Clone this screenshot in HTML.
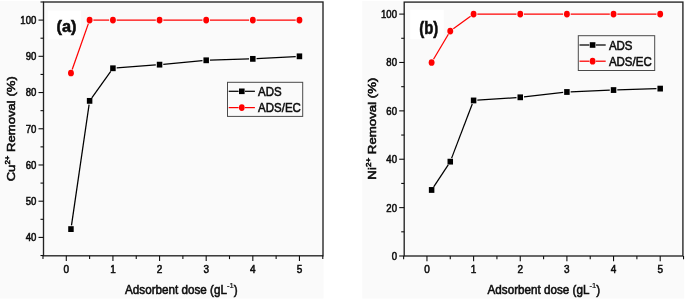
<!DOCTYPE html>
<html lang="en"><head><meta charset="utf-8"><title>Removal vs adsorbent dose</title>
<style>html,body{margin:0;padding:0;background:#fff;}svg{display:block;}</style></head>
<body>
<svg width="685" height="300" viewBox="0 0 685 300" font-family="'Liberation Sans', Arial, sans-serif" fill="#111">
<style>text{stroke:#0c0c0c;stroke-width:0.55px;fill:#0c0c0c;}</style>
<defs><filter id="soft" x="0" y="0" width="100%" height="100%" filterUnits="objectBoundingBox"><feGaussianBlur stdDeviation="0.38"/></filter></defs>
<rect width="685" height="300" fill="#fff"/>
<g filter="url(#soft)">
<rect width="685" height="300" fill="#fff"/>
<rect x="0" y="1" width="323.5" height="297.5" fill="#fafafa"/>
<rect x="47.7" y="10.6" width="33.3" height="28.799999999999997" fill="#fff"/>
<rect x="43.5" y="2.0" width="279.5" height="253.8" fill="none" stroke="#222" stroke-width="1.35"/>
<line x1="66.30" y1="255.8" x2="66.30" y2="261.0" stroke="#111" stroke-width="1.1"/>
<text transform="translate(66.30,273.10) scale(0.9,1)" font-size="11.1" text-anchor="middle" font-weight="normal" >0</text>
<line x1="112.93" y1="255.8" x2="112.93" y2="261.0" stroke="#111" stroke-width="1.1"/>
<text transform="translate(112.93,273.10) scale(0.9,1)" font-size="11.1" text-anchor="middle" font-weight="normal" >1</text>
<line x1="159.56" y1="255.8" x2="159.56" y2="261.0" stroke="#111" stroke-width="1.1"/>
<text transform="translate(159.56,273.10) scale(0.9,1)" font-size="11.1" text-anchor="middle" font-weight="normal" >2</text>
<line x1="206.19" y1="255.8" x2="206.19" y2="261.0" stroke="#111" stroke-width="1.1"/>
<text transform="translate(206.19,273.10) scale(0.9,1)" font-size="11.1" text-anchor="middle" font-weight="normal" >3</text>
<line x1="252.82" y1="255.8" x2="252.82" y2="261.0" stroke="#111" stroke-width="1.1"/>
<text transform="translate(252.82,273.10) scale(0.9,1)" font-size="11.1" text-anchor="middle" font-weight="normal" >4</text>
<line x1="299.45" y1="255.8" x2="299.45" y2="261.0" stroke="#111" stroke-width="1.1"/>
<text transform="translate(299.45,273.10) scale(0.9,1)" font-size="11.1" text-anchor="middle" font-weight="normal" >5</text>
<line x1="42.98" y1="255.8" x2="42.98" y2="259.1" stroke="#111" stroke-width="1.1"/>
<line x1="89.61" y1="255.8" x2="89.61" y2="259.1" stroke="#111" stroke-width="1.1"/>
<line x1="136.25" y1="255.8" x2="136.25" y2="259.1" stroke="#111" stroke-width="1.1"/>
<line x1="182.88" y1="255.8" x2="182.88" y2="259.1" stroke="#111" stroke-width="1.1"/>
<line x1="229.50" y1="255.8" x2="229.50" y2="259.1" stroke="#111" stroke-width="1.1"/>
<line x1="276.13" y1="255.8" x2="276.13" y2="259.1" stroke="#111" stroke-width="1.1"/>
<line x1="322.77" y1="255.8" x2="322.77" y2="259.1" stroke="#111" stroke-width="1.1"/>
<line x1="38.5" y1="237.42" x2="43.5" y2="237.42" stroke="#111" stroke-width="1.1"/>
<text transform="translate(36.30,241.37) scale(0.87,1)" font-size="11.0" text-anchor="end" font-weight="normal" >40</text>
<line x1="38.5" y1="201.20" x2="43.5" y2="201.20" stroke="#111" stroke-width="1.1"/>
<text transform="translate(36.30,205.15) scale(0.87,1)" font-size="11.0" text-anchor="end" font-weight="normal" >50</text>
<line x1="38.5" y1="164.98" x2="43.5" y2="164.98" stroke="#111" stroke-width="1.1"/>
<text transform="translate(36.30,168.93) scale(0.87,1)" font-size="11.0" text-anchor="end" font-weight="normal" >60</text>
<line x1="38.5" y1="128.76" x2="43.5" y2="128.76" stroke="#111" stroke-width="1.1"/>
<text transform="translate(36.30,132.71) scale(0.87,1)" font-size="11.0" text-anchor="end" font-weight="normal" >70</text>
<line x1="38.5" y1="92.54" x2="43.5" y2="92.54" stroke="#111" stroke-width="1.1"/>
<text transform="translate(36.30,96.49) scale(0.87,1)" font-size="11.0" text-anchor="end" font-weight="normal" >80</text>
<line x1="38.5" y1="56.32" x2="43.5" y2="56.32" stroke="#111" stroke-width="1.1"/>
<text transform="translate(36.30,60.27) scale(0.87,1)" font-size="11.0" text-anchor="end" font-weight="normal" >90</text>
<line x1="38.5" y1="20.10" x2="43.5" y2="20.10" stroke="#111" stroke-width="1.1"/>
<text transform="translate(36.30,24.05) scale(0.87,1)" font-size="11.0" text-anchor="end" font-weight="normal" >100</text>
<line x1="40.5" y1="255.53" x2="43.5" y2="255.53" stroke="#111" stroke-width="1.1"/>
<line x1="40.5" y1="219.31" x2="43.5" y2="219.31" stroke="#111" stroke-width="1.1"/>
<line x1="40.5" y1="183.09" x2="43.5" y2="183.09" stroke="#111" stroke-width="1.1"/>
<line x1="40.5" y1="146.87" x2="43.5" y2="146.87" stroke="#111" stroke-width="1.1"/>
<line x1="40.5" y1="110.65" x2="43.5" y2="110.65" stroke="#111" stroke-width="1.1"/>
<line x1="40.5" y1="74.43" x2="43.5" y2="74.43" stroke="#111" stroke-width="1.1"/>
<line x1="40.5" y1="38.21" x2="43.5" y2="38.21" stroke="#111" stroke-width="1.1"/>
<line x1="40.5" y1="1.99" x2="43.5" y2="1.99" stroke="#111" stroke-width="1.1"/>
<line x1="72.21" y1="69.44" x2="88.37" y2="23.64" stroke="#ff0000" stroke-width="1.25"/>
<line x1="93.36" y1="20.10" x2="109.18" y2="20.10" stroke="#ff0000" stroke-width="1.25"/>
<line x1="116.68" y1="20.10" x2="155.81" y2="20.10" stroke="#ff0000" stroke-width="1.25"/>
<line x1="163.31" y1="20.10" x2="202.44" y2="20.10" stroke="#ff0000" stroke-width="1.25"/>
<line x1="209.94" y1="20.10" x2="249.07" y2="20.10" stroke="#ff0000" stroke-width="1.25"/>
<line x1="256.57" y1="20.10" x2="295.70" y2="20.10" stroke="#ff0000" stroke-width="1.25"/>
<ellipse cx="70.96" cy="72.98" rx="2.9499999999999997" ry="3.35" fill="#ff0000"/>
<ellipse cx="89.61" cy="20.10" rx="2.9499999999999997" ry="3.35" fill="#ff0000"/>
<ellipse cx="112.93" cy="20.10" rx="2.9499999999999997" ry="3.35" fill="#ff0000"/>
<ellipse cx="159.56" cy="20.10" rx="2.9499999999999997" ry="3.35" fill="#ff0000"/>
<ellipse cx="206.19" cy="20.10" rx="2.9499999999999997" ry="3.35" fill="#ff0000"/>
<ellipse cx="252.82" cy="20.10" rx="2.9499999999999997" ry="3.35" fill="#ff0000"/>
<ellipse cx="299.45" cy="20.10" rx="2.9499999999999997" ry="3.35" fill="#ff0000"/>
<line x1="71.50" y1="225.38" x2="89.08" y2="104.58" stroke="#000" stroke-width="1.25"/>
<line x1="91.80" y1="97.82" x2="110.75" y2="71.32" stroke="#000" stroke-width="1.25"/>
<line x1="116.67" y1="67.98" x2="155.82" y2="64.94" stroke="#000" stroke-width="1.25"/>
<line x1="163.29" y1="64.30" x2="202.46" y2="60.65" stroke="#000" stroke-width="1.25"/>
<line x1="209.94" y1="60.19" x2="249.07" y2="58.97" stroke="#000" stroke-width="1.25"/>
<line x1="256.56" y1="58.65" x2="295.71" y2="56.52" stroke="#000" stroke-width="1.25"/>
<rect x="68.21" y="226.19" width="5.5" height="5.8" fill="#000"/>
<rect x="86.86" y="97.97" width="5.5" height="5.8" fill="#000"/>
<rect x="110.18" y="65.37" width="5.5" height="5.8" fill="#000"/>
<rect x="156.81" y="61.75" width="5.5" height="5.8" fill="#000"/>
<rect x="203.44" y="57.40" width="5.5" height="5.8" fill="#000"/>
<rect x="250.07" y="55.96" width="5.5" height="5.8" fill="#000"/>
<rect x="296.70" y="53.42" width="5.5" height="5.8" fill="#000"/>
<text transform="translate(66.50,31.60) scale(1.0,1)" font-size="16.3" text-anchor="middle" font-weight="bold" >(a)</text>
<rect x="227.5" y="82.3" width="75.19999999999999" height="34.10000000000001" fill="#fafafa" stroke="#4a4a4a" stroke-width="1"/>
<line x1="228.7" y1="91.3" x2="238.60000000000002" y2="91.3" stroke="#000" stroke-width="1.25"/>
<line x1="245.0" y1="91.3" x2="254.9" y2="91.3" stroke="#000" stroke-width="1.25"/>
<rect x="239.0" y="88.5" width="5.6" height="5.6" fill="#000"/>
<line x1="228.7" y1="107.6" x2="238.60000000000002" y2="107.6" stroke="#ff0000" stroke-width="1.25"/>
<line x1="245.0" y1="107.6" x2="254.9" y2="107.6" stroke="#ff0000" stroke-width="1.25"/>
<ellipse cx="241.8" cy="107.6" rx="2.9" ry="3.35" fill="#ff0000"/>
<text transform="translate(258.10,96.00) scale(0.885,1)" font-size="13" text-anchor="start" font-weight="normal" >ADS</text>
<text transform="translate(258.10,112.30) scale(0.885,1)" font-size="13" text-anchor="start" font-weight="normal" >ADS/EC</text>
<text transform="translate(181.35,294.20) scale(0.95,1)" font-size="12.3" text-anchor="middle" font-weight="normal" >Adsorbent dose (gL<tspan font-size="8" dy="-6.4" stroke-width="0.2">-1</tspan><tspan dy="6.4">)</tspan></text>
<text transform="translate(14.6,128.8) rotate(-90) scale(1.11,1)" font-size="11.8" text-anchor="middle">Cu<tspan font-size="7.2" dy="-5">2+</tspan><tspan dy="5"> Removal (%)</tspan></text>
<rect x="362.3" y="1" width="321.90000000000003" height="297.5" fill="#fafafa"/>
<rect x="410.2" y="9.7" width="33.5" height="29.500000000000004" fill="#fff"/>
<rect x="404.2" y="2.1" width="278.7" height="253.9" fill="none" stroke="#222" stroke-width="1.35"/>
<line x1="426.95" y1="256.0" x2="426.95" y2="261.2" stroke="#111" stroke-width="1.1"/>
<text transform="translate(426.95,273.30) scale(0.9,1)" font-size="11.1" text-anchor="middle" font-weight="normal" >0</text>
<line x1="473.60" y1="256.0" x2="473.60" y2="261.2" stroke="#111" stroke-width="1.1"/>
<text transform="translate(473.60,273.30) scale(0.9,1)" font-size="11.1" text-anchor="middle" font-weight="normal" >1</text>
<line x1="520.25" y1="256.0" x2="520.25" y2="261.2" stroke="#111" stroke-width="1.1"/>
<text transform="translate(520.25,273.30) scale(0.9,1)" font-size="11.1" text-anchor="middle" font-weight="normal" >2</text>
<line x1="566.90" y1="256.0" x2="566.90" y2="261.2" stroke="#111" stroke-width="1.1"/>
<text transform="translate(566.90,273.30) scale(0.9,1)" font-size="11.1" text-anchor="middle" font-weight="normal" >3</text>
<line x1="613.55" y1="256.0" x2="613.55" y2="261.2" stroke="#111" stroke-width="1.1"/>
<text transform="translate(613.55,273.30) scale(0.9,1)" font-size="11.1" text-anchor="middle" font-weight="normal" >4</text>
<line x1="660.20" y1="256.0" x2="660.20" y2="261.2" stroke="#111" stroke-width="1.1"/>
<text transform="translate(660.20,273.30) scale(0.9,1)" font-size="11.1" text-anchor="middle" font-weight="normal" >5</text>
<line x1="403.62" y1="256.0" x2="403.62" y2="259.3" stroke="#111" stroke-width="1.1"/>
<line x1="450.27" y1="256.0" x2="450.27" y2="259.3" stroke="#111" stroke-width="1.1"/>
<line x1="496.92" y1="256.0" x2="496.92" y2="259.3" stroke="#111" stroke-width="1.1"/>
<line x1="543.58" y1="256.0" x2="543.58" y2="259.3" stroke="#111" stroke-width="1.1"/>
<line x1="590.23" y1="256.0" x2="590.23" y2="259.3" stroke="#111" stroke-width="1.1"/>
<line x1="636.88" y1="256.0" x2="636.88" y2="259.3" stroke="#111" stroke-width="1.1"/>
<line x1="683.52" y1="256.0" x2="683.52" y2="259.3" stroke="#111" stroke-width="1.1"/>
<line x1="399.2" y1="256.00" x2="404.2" y2="256.00" stroke="#111" stroke-width="1.1"/>
<text transform="translate(397.00,259.95) scale(0.87,1)" font-size="11.0" text-anchor="end" font-weight="normal" >0</text>
<line x1="399.2" y1="207.62" x2="404.2" y2="207.62" stroke="#111" stroke-width="1.1"/>
<text transform="translate(397.00,211.57) scale(0.87,1)" font-size="11.0" text-anchor="end" font-weight="normal" >20</text>
<line x1="399.2" y1="159.24" x2="404.2" y2="159.24" stroke="#111" stroke-width="1.1"/>
<text transform="translate(397.00,163.19) scale(0.87,1)" font-size="11.0" text-anchor="end" font-weight="normal" >40</text>
<line x1="399.2" y1="110.86" x2="404.2" y2="110.86" stroke="#111" stroke-width="1.1"/>
<text transform="translate(397.00,114.81) scale(0.87,1)" font-size="11.0" text-anchor="end" font-weight="normal" >60</text>
<line x1="399.2" y1="62.48" x2="404.2" y2="62.48" stroke="#111" stroke-width="1.1"/>
<text transform="translate(397.00,66.43) scale(0.87,1)" font-size="11.0" text-anchor="end" font-weight="normal" >80</text>
<line x1="399.2" y1="14.10" x2="404.2" y2="14.10" stroke="#111" stroke-width="1.1"/>
<text transform="translate(397.00,18.05) scale(0.87,1)" font-size="11.0" text-anchor="end" font-weight="normal" >100</text>
<line x1="401.2" y1="231.81" x2="404.2" y2="231.81" stroke="#111" stroke-width="1.1"/>
<line x1="401.2" y1="183.43" x2="404.2" y2="183.43" stroke="#111" stroke-width="1.1"/>
<line x1="401.2" y1="135.05" x2="404.2" y2="135.05" stroke="#111" stroke-width="1.1"/>
<line x1="401.2" y1="86.67" x2="404.2" y2="86.67" stroke="#111" stroke-width="1.1"/>
<line x1="401.2" y1="38.29" x2="404.2" y2="38.29" stroke="#111" stroke-width="1.1"/>
<line x1="433.53" y1="59.26" x2="448.36" y2="34.26" stroke="#ff0000" stroke-width="1.25"/>
<line x1="453.31" y1="28.83" x2="470.57" y2="16.30" stroke="#ff0000" stroke-width="1.25"/>
<line x1="477.35" y1="14.10" x2="516.50" y2="14.10" stroke="#ff0000" stroke-width="1.25"/>
<line x1="524.00" y1="14.10" x2="563.15" y2="14.10" stroke="#ff0000" stroke-width="1.25"/>
<line x1="570.65" y1="14.10" x2="609.80" y2="14.10" stroke="#ff0000" stroke-width="1.25"/>
<line x1="617.30" y1="14.10" x2="656.45" y2="14.10" stroke="#ff0000" stroke-width="1.25"/>
<ellipse cx="431.62" cy="62.48" rx="2.9499999999999997" ry="3.35" fill="#ff0000"/>
<ellipse cx="450.27" cy="31.03" rx="2.9499999999999997" ry="3.35" fill="#ff0000"/>
<ellipse cx="473.60" cy="14.10" rx="2.9499999999999997" ry="3.35" fill="#ff0000"/>
<ellipse cx="520.25" cy="14.10" rx="2.9499999999999997" ry="3.35" fill="#ff0000"/>
<ellipse cx="566.90" cy="14.10" rx="2.9499999999999997" ry="3.35" fill="#ff0000"/>
<ellipse cx="613.55" cy="14.10" rx="2.9499999999999997" ry="3.35" fill="#ff0000"/>
<ellipse cx="660.20" cy="14.10" rx="2.9499999999999997" ry="3.35" fill="#ff0000"/>
<line x1="433.68" y1="186.83" x2="448.21" y2="164.79" stroke="#000" stroke-width="1.25"/>
<line x1="451.61" y1="158.15" x2="472.26" y2="103.96" stroke="#000" stroke-width="1.25"/>
<line x1="477.34" y1="100.21" x2="516.51" y2="97.57" stroke="#000" stroke-width="1.25"/>
<line x1="523.98" y1="96.89" x2="563.17" y2="92.42" stroke="#000" stroke-width="1.25"/>
<line x1="570.65" y1="91.84" x2="609.80" y2="90.21" stroke="#000" stroke-width="1.25"/>
<line x1="617.30" y1="89.94" x2="656.45" y2="88.72" stroke="#000" stroke-width="1.25"/>
<rect x="428.87" y="187.06" width="5.5" height="5.8" fill="#000"/>
<rect x="447.52" y="158.76" width="5.5" height="5.8" fill="#000"/>
<rect x="470.85" y="97.56" width="5.5" height="5.8" fill="#000"/>
<rect x="517.50" y="94.41" width="5.5" height="5.8" fill="#000"/>
<rect x="564.15" y="89.09" width="5.5" height="5.8" fill="#000"/>
<rect x="610.80" y="87.16" width="5.5" height="5.8" fill="#000"/>
<rect x="657.45" y="85.71" width="5.5" height="5.8" fill="#000"/>
<text transform="translate(428.80,34.30) scale(0.84,1)" font-size="17.8" text-anchor="middle" font-weight="bold" >(b)</text>
<rect x="578.3" y="35.7" width="76.40000000000009" height="34.8" fill="#fafafa" stroke="#4a4a4a" stroke-width="1"/>
<line x1="579.5" y1="45.0" x2="589.3999999999999" y2="45.0" stroke="#000" stroke-width="1.25"/>
<line x1="595.8" y1="45.0" x2="605.6999999999999" y2="45.0" stroke="#000" stroke-width="1.25"/>
<rect x="589.8" y="42.2" width="5.6" height="5.6" fill="#000"/>
<line x1="579.5" y1="61.2" x2="589.3999999999999" y2="61.2" stroke="#ff0000" stroke-width="1.25"/>
<line x1="595.8" y1="61.2" x2="605.6999999999999" y2="61.2" stroke="#ff0000" stroke-width="1.25"/>
<ellipse cx="592.5999999999999" cy="61.2" rx="2.9" ry="3.35" fill="#ff0000"/>
<text transform="translate(608.90,50.10) scale(0.885,1)" font-size="13" text-anchor="start" font-weight="normal" >ADS</text>
<text transform="translate(608.90,65.90) scale(0.885,1)" font-size="13" text-anchor="start" font-weight="normal" >ADS/EC</text>
<text transform="translate(543.85,294.20) scale(0.95,1)" font-size="12.3" text-anchor="middle" font-weight="normal" >Adsorbent dose (gL<tspan font-size="8" dy="-6.4" stroke-width="0.2">-1</tspan><tspan dy="6.4">)</tspan></text>
<text transform="translate(375.7,128.6) rotate(-90) scale(1.125,1)" font-size="11.8" text-anchor="middle">Ni<tspan font-size="7.2" dy="-5">2+</tspan><tspan dy="5"> Removal (%)</tspan></text>
</g>
</svg>
</body></html>
